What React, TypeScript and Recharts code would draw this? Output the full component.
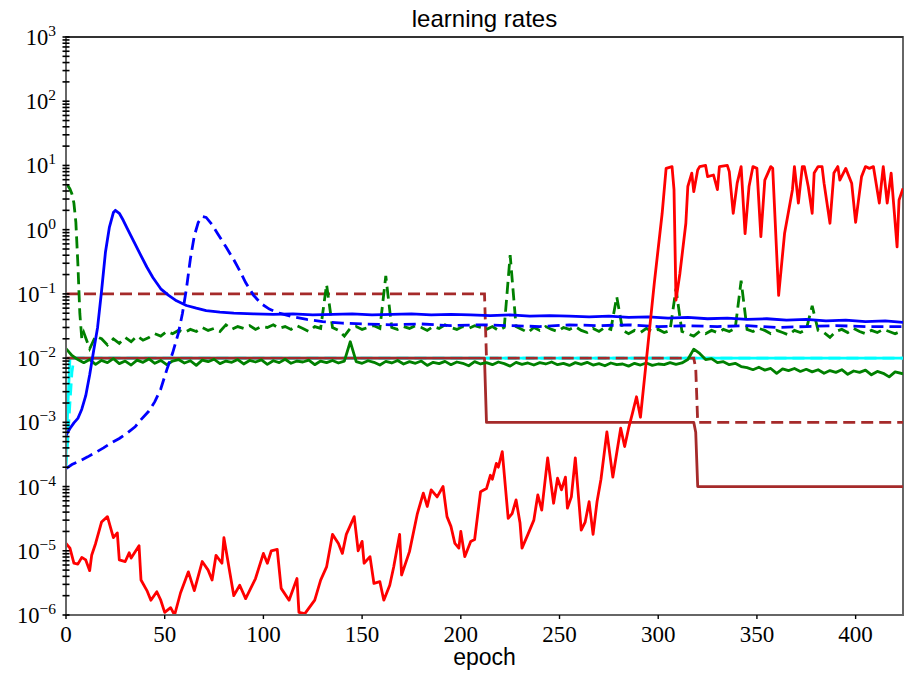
import React from 'react';
import { LineChart, Line, XAxis, YAxis, ReferenceArea, ReferenceLine } from 'recharts';

type P = [number, number];

const xTicks = [0, 50, 100, 150, 200, 250, 300, 350, 400];
const yMajorTicks = [1e-6, 1e-5, 1e-4, 1e-3, 1e-2, 1e-1, 1, 10, 100, 1000];
const minorMultipliers = [2, 3, 4, 5, 6, 7, 8, 9];

const redRate: P[] = [
  [0, 1.3e-5], [2, 1.1e-5], [4, 6.4e-6], [6, 6.2e-6], [8, 7.9e-6], [10, 7.2e-6], [12, 4.9e-6], [13, 8.5e-6],
  [15, 1.3e-5], [18, 2.8e-5], [21, 3.4e-5], [24, 1.6e-5], [26, 1.9e-5], [27, 7.2e-6], [30, 6.8e-6], [32, 9.3e-6],
  [33, 7.7e-6], [37, 1.2e-5], [38, 3.5e-6], [41, 2.4e-6], [43, 1.7e-6], [46, 2.3e-6], [48, 1.7e-6], [50, 1.1e-6],
  [53, 1.3e-6], [55, 1.0e-6], [58, 2.2e-6], [62, 4.7e-6], [65, 2.4e-6], [69, 6.8e-6], [72, 5.0e-6], [74, 3.5e-6],
  [76, 8.5e-6], [79, 6.4e-6], [80, 1.6e-5], [85, 2.0e-6], [88, 2.9e-6], [91, 1.8e-6], [96, 3.7e-6], [100, 9.1e-6],
  [102, 6.4e-6], [104, 1.0e-5], [107, 1.05e-5], [109, 2.6e-6], [113, 1.7e-6], [117, 3.7e-6], [118, 1.1e-6],
  [121, 1.05e-6], [126, 1.7e-6], [129, 3.5e-6], [132, 5.6e-6], [135, 1.8e-5], [138, 1.3e-5], [140, 9.1e-6],
  [142, 1.8e-5], [146, 3.4e-5], [148, 1.0e-5], [150, 1.4e-5], [151, 6.4e-6], [154, 8.1e-6], [156, 3.1e-6],
  [159, 3.3e-6], [161, 1.7e-6], [164, 2.9e-6], [166, 5.6e-6], [169, 1.8e-5], [170, 4.2e-6], [174, 9.7e-6],
  [178, 3.8e-5], [181, 7.9e-5], [183, 4.9e-5], [185, 8.9e-5], [188, 6.9e-5], [191, 1.0e-4], [193, 3.4e-5],
  [195, 2.4e-5], [197, 1.3e-5], [199, 1.1e-5], [200, 2.0e-5], [202, 8.1e-6], [205, 1.4e-5], [207, 1.5e-5],
  [210, 8.3e-5], [213, 9.3e-5], [215, 1.5e-4], [216, 1.3e-4], [218, 2.3e-4], [219, 2.0e-4], [221, 3.5e-4],
  [224, 3.2e-5], [226, 3.8e-5], [228, 6.2e-5], [230, 2.7e-5], [231, 1.1e-5], [234, 1.8e-5], [237, 3.0e-5],
  [239, 7.4e-5], [241, 4.3e-5], [244, 2.8e-4], [247, 5.5e-5], [249, 1.35e-4], [251, 8.9e-5], [253, 1.4e-4],
  [254, 4.6e-5], [256, 6.9e-5], [258, 2.8e-4], [261, 2.1e-5], [263, 2.8e-5], [265, 5.8e-5], [267, 1.8e-5],
  [269, 5.8e-5], [271, 1.3e-4], [274, 7.1e-4], [277, 1.4e-4], [281, 8.1e-4], [283, 4.2e-4], [285, 8.1e-4],
  [287, 1.4e-3], [289, 2.5e-3], [291, 1.2e-3], [294, 9.3e-3], [298, 0.146], [302, 1.8], [304, 9.0], [307, 9.6],
  [308, 4.2], [309, 0.08], [311, 0.21], [314, 1.26], [315, 4.7], [317, 7.6], [318, 3.9], [320, 8.5], [321, 9.6],
  [324, 10], [325, 6.7], [328, 7.1], [330, 4.2], [331, 9.6], [335, 10], [336, 8], [338, 1.8], [340, 5.3],
  [342, 9.6], [344, 0.87], [346, 4.7], [348, 9.6], [350, 9], [352, 0.78], [354, 5.9], [357, 9.6], [358, 9],
  [361, 0.095], [364, 0.87], [368, 4.2], [369, 9.6], [371, 2.6], [373, 9.6], [374, 9.6], [376, 4.7], [378, 1.8],
  [379, 7.6], [381, 9.6], [383, 9.6], [384, 5.3], [387, 1.26], [389, 7.6], [391, 9.6], [392, 5.9], [395, 9.0],
  [398, 5.3], [400, 1.3], [403, 6.7], [405, 9.6], [407, 9], [409, 9.6], [412, 2.6], [414, 9.6], [416, 2.6],
  [418, 7.6], [421, 0.54], [422, 2.9], [424, 4.4],
];

const blueSolid: P[] = [
  [0, 6.3e-4], [2, 8e-4], [4, 9.8e-4], [6, 1.15e-3], [8, 1.6e-3], [10, 2.6e-3], [12, 5.5e-3], [14, 0.013],
  [16, 0.03], [18, 0.11], [20, 0.45], [22, 1.1], [24, 1.85], [25, 2.0], [27, 1.8], [29, 1.4], [31, 1.05],
  [34, 0.69], [37, 0.45], [41, 0.26], [44, 0.18], [48, 0.12], [52, 0.095], [56, 0.078], [61, 0.066], [66, 0.06],
  [71, 0.055], [78, 0.052], [85, 0.05], [95, 0.049], [105, 0.048], [115, 0.049], [125, 0.047], [135, 0.048],
  [145, 0.049], [155, 0.047], [165, 0.048], [175, 0.049], [185, 0.047], [195, 0.048], [205, 0.047], [215, 0.046],
  [225, 0.047], [235, 0.045], [245, 0.046], [255, 0.045], [265, 0.044], [275, 0.045], [285, 0.043], [295, 0.044],
  [305, 0.042], [315, 0.043], [325, 0.041], [335, 0.042], [345, 0.04], [355, 0.041], [365, 0.039], [375, 0.04],
  [385, 0.038], [395, 0.039], [405, 0.037], [415, 0.038], [424, 0.036],
];

const blueDashed: P[] = [
  [0, 1.9e-4], [3, 2.2e-4], [7, 2.5e-4], [11, 2.9e-4], [15, 3.4e-4], [19, 4.0e-4], [23, 4.8e-4], [27, 5.6e-4],
  [31, 6.8e-4], [35, 8.5e-4], [38, 1.1e-3], [42, 1.5e-3], [45, 2.1e-3], [48, 3.3e-3], [51, 6.5e-3], [54, 0.012],
  [57, 0.025], [59, 0.05], [61, 0.12], [63, 0.35], [65, 0.8], [67, 1.3], [69, 1.6], [71, 1.55], [74, 1.2],
  [77, 0.85], [81, 0.54], [85, 0.34], [88, 0.23], [91, 0.15], [95, 0.095], [99, 0.07], [103, 0.058], [108, 0.05],
  [115, 0.044], [122, 0.04], [130, 0.037], [140, 0.035], [150, 0.034], [165, 0.033], [180, 0.034], [195, 0.032],
  [210, 0.033], [225, 0.032], [240, 0.031], [255, 0.033], [270, 0.032], [285, 0.033], [300, 0.031], [315, 0.032],
  [330, 0.031], [345, 0.032], [360, 0.03], [375, 0.031], [390, 0.032], [405, 0.031], [424, 0.031],
];

const greenDashed: P[] = [
  [0, 5.0], [1, 4.8], [2, 4.3], [3, 3.6], [4, 2.6], [5, 1.3], [6, 0.3], [7, 0.05], [8, 0.02],
  [9, 0.025], [12, 0.014], [15, 0.022], [18, 0.02], [21, 0.016], [24, 0.02], [27, 0.017], [30, 0.021],
  [33, 0.018], [36, 0.022], [39, 0.019], [42, 0.021], [45, 0.024], [48, 0.022], [51, 0.026], [54, 0.024],
  [57, 0.027], [60, 0.025], [63, 0.028], [66, 0.026], [69, 0.03], [72, 0.027], [75, 0.029], [78, 0.026],
  [81, 0.033], [84, 0.028], [87, 0.031], [90, 0.029], [93, 0.032], [96, 0.028], [99, 0.031], [102, 0.03],
  [105, 0.033], [108, 0.029], [111, 0.031], [114, 0.028], [117, 0.032], [120, 0.029], [123, 0.026], [126, 0.031],
  [129, 0.029], [132, 0.14], [135, 0.03], [138, 0.027], [141, 0.022], [144, 0.029], [147, 0.031], [150, 0.028],
  [153, 0.03], [156, 0.032], [159, 0.029], [162, 0.19], [165, 0.03], [168, 0.028], [171, 0.031], [174, 0.029],
  [177, 0.032], [180, 0.03], [183, 0.027], [186, 0.031], [189, 0.029], [192, 0.033], [195, 0.03], [198, 0.028],
  [201, 0.031], [204, 0.029], [207, 0.032], [210, 0.03], [213, 0.028], [216, 0.031], [219, 0.027], [222, 0.03],
  [225, 0.4], [228, 0.031], [231, 0.028], [234, 0.025], [237, 0.03], [240, 0.027], [243, 0.031], [246, 0.028],
  [249, 0.026], [252, 0.03], [255, 0.028], [258, 0.031], [261, 0.027], [264, 0.025], [267, 0.029], [270, 0.026],
  [273, 0.03], [276, 0.028], [279, 0.09], [282, 0.027], [285, 0.024], [288, 0.027], [291, 0.025], [294, 0.029],
  [297, 0.026], [300, 0.028], [303, 0.025], [306, 0.027], [309, 0.12], [312, 0.026], [315, 0.024], [318, 0.022],
  [321, 0.026], [324, 0.024], [327, 0.027], [330, 0.025], [333, 0.028], [336, 0.026], [339, 0.029], [342, 0.16],
  [345, 0.028], [348, 0.026], [351, 0.029], [354, 0.027], [357, 0.024], [360, 0.027], [363, 0.025], [366, 0.023],
  [369, 0.027], [372, 0.025], [375, 0.028], [378, 0.065], [381, 0.027], [384, 0.025], [387, 0.021], [390, 0.026],
  [393, 0.028], [396, 0.025], [399, 0.029], [402, 0.026], [405, 0.024], [408, 0.027], [411, 0.025], [414, 0.028],
  [417, 0.026], [420, 0.024], [424, 0.027],
];

const greenSolid: P[] = [
  [0, 0.014], [3, 0.011], [6, 0.0095], [9, 0.0085], [12, 0.0095], [15, 0.008], [18, 0.0092], [21, 0.0085],
  [24, 0.0098], [27, 0.0082], [30, 0.009], [33, 0.0078], [36, 0.0093], [39, 0.0086], [42, 0.0097], [45, 0.0083],
  [48, 0.0092], [51, 0.0079], [54, 0.009], [57, 0.0095], [60, 0.0084], [63, 0.0091], [66, 0.0077], [69, 0.0093],
  [72, 0.0088], [75, 0.0096], [78, 0.0082], [81, 0.009], [84, 0.0086], [87, 0.0095], [90, 0.0081], [93, 0.0092],
  [96, 0.0087], [99, 0.0094], [102, 0.008], [105, 0.0091], [108, 0.0085], [111, 0.0096], [114, 0.0083],
  [117, 0.009], [120, 0.0087], [123, 0.0093], [126, 0.0079], [129, 0.009], [132, 0.0085], [135, 0.0092],
  [138, 0.0084], [141, 0.009], [144, 0.018], [147, 0.0088], [150, 0.0083], [153, 0.0091], [156, 0.0086],
  [159, 0.0078], [162, 0.0089], [165, 0.0084], [168, 0.0092], [171, 0.0081], [174, 0.0088], [177, 0.0083],
  [180, 0.009], [183, 0.0077], [186, 0.0086], [189, 0.0082], [192, 0.0089], [195, 0.0079], [198, 0.0087],
  [201, 0.0083], [204, 0.0076], [207, 0.0088], [210, 0.0081], [213, 0.0085], [216, 0.0079], [219, 0.0087],
  [222, 0.0082], [225, 0.0075], [228, 0.0086], [231, 0.008], [234, 0.0084], [237, 0.0078], [240, 0.0085],
  [243, 0.0081], [246, 0.0087], [249, 0.0079], [252, 0.0083], [255, 0.0077], [258, 0.0085], [261, 0.008],
  [264, 0.0086], [267, 0.0078], [270, 0.0082], [273, 0.0076], [276, 0.0084], [279, 0.0079], [282, 0.0081],
  [285, 0.0075], [288, 0.0083], [291, 0.0078], [294, 0.0084], [297, 0.0077], [300, 0.0081], [303, 0.0079],
  [306, 0.0085], [309, 0.008], [312, 0.0084], [315, 0.0095], [318, 0.0138], [321, 0.0118], [324, 0.0095],
  [327, 0.0098], [330, 0.0085], [333, 0.0088], [336, 0.0079], [339, 0.0083], [342, 0.0074], [345, 0.0071],
  [348, 0.0066], [351, 0.0072], [354, 0.0065], [357, 0.0069], [360, 0.0058], [363, 0.0068], [366, 0.0064],
  [369, 0.0069], [372, 0.0062], [375, 0.0067], [378, 0.0061], [381, 0.0066], [384, 0.0058], [387, 0.0064],
  [390, 0.006], [393, 0.0066], [396, 0.0056], [399, 0.0063], [402, 0.006], [405, 0.0065], [408, 0.0055],
  [411, 0.0062], [414, 0.0058], [417, 0.0051], [420, 0.0061], [424, 0.0057],
];

const brownSolid: P[] = [[0, 0.01], [212, 0.01], [213, 0.001], [318, 0.001], [319, 7e-4], [320, 1e-4], [424, 1e-4]];
const brownDashed: P[] = [[0, 0.1], [212, 0.1], [213, 0.01], [318, 0.01], [319, 7e-3], [320, 1e-3], [424, 1e-3]];
const cyanSolid: P[] = [[0, 3e-4], [1, 2e-3], [2, 0.01], [424, 0.01]];
const cyanDashed: P[] = [[0, 2e-4], [1, 6e-4], [2, 2e-3], [3, 6e-3], [4, 0.01], [424, 0.01]];

const toData = (pts: P[]) => pts.map(([x, y]) => ({ x, y }));

const yTicks: number[] = [];
yMajorTicks.forEach((t, i) => {
  yTicks.push(t);
  if (i < yMajorTicks.length - 1) minorMultipliers.forEach((m) => yTicks.push(m * t));
});

const SERIF = '"Liberation Serif", "DejaVu Serif", serif';
const SANS = '"Liberation Sans", "DejaVu Sans", sans-serif';

const YTick = (props: any) => {
  const { x, y, payload } = props;
  const v = payload.value;
  const e = Math.log10(v);
  const major = Math.abs(e - Math.round(e)) < 1e-6;
  const n = Math.round(e);
  return (
    <g>
      <line x1={x - 3.5} x2={x + 3.5} y1={y} y2={y} stroke="#000" strokeWidth={1.6} />
      {major && (
        <text x={x - 10} y={y + 8} textAnchor="end" fontFamily={SERIF} fontSize={22.5} fill="#000">
          <tspan>10</tspan>
          <tspan dy={-9} fontSize={15.5}>{n < 0 ? '\u2212' + Math.abs(n) : String(n)}</tspan>
        </text>
      )}
    </g>
  );
};

const lw = 2.8;
const dash = '12 6';

export default function App() {
  return (
    <div style={{ position: 'absolute', left: 0, top: 0, width: 913, height: 687, background: '#fff' }}>
      <LineChart width={913} height={687} margin={{ top: 37, right: 10, bottom: 42, left: 6 }}>
        <XAxis
          dataKey="x"
          type="number"
          domain={[0, 424]}
          ticks={xTicks}
          allowDataOverflow
          height={30}
          tickSize={4}
          tickMargin={7}
          interval={0}
          axisLine={{ stroke: '#666', strokeWidth: 2 }}
          tickLine={{ stroke: '#000', strokeWidth: 1.4 }}
          tick={{ fontFamily: SERIF, fontSize: 23, fill: '#000' }}
        />
        <YAxis
          type="number"
          scale="log"
          domain={[1e-6, 1000]}
          ticks={yTicks}
          allowDataOverflow
          width={60}
          tickSize={0}
          tickMargin={0}
          interval={0}
          axisLine={{ stroke: '#666', strokeWidth: 2 }}
          tickLine={false}
          tick={<YTick />}
        />
        <ReferenceArea x1={0} x2={424} y1={1e-6} y2={1000} fill="none" stroke="#666" strokeWidth={2} ifOverflow="visible" />
        <ReferenceLine y={1000} stroke="#222" strokeWidth={1.6} ifOverflow="visible" />
        <Line data={toData(cyanSolid)} dataKey="y" stroke="#00ffff" strokeWidth={lw} strokeLinejoin="round" dot={false} isAnimationActive={false} />
        <Line data={toData(cyanDashed)} dataKey="y" stroke="#00ffff" strokeWidth={lw} strokeDasharray={dash} dot={false} isAnimationActive={false} />
        <Line data={toData(brownSolid)} dataKey="y" stroke="#a52a2a" strokeWidth={lw} strokeLinejoin="round" dot={false} isAnimationActive={false} />
        <Line data={toData(brownDashed)} dataKey="y" stroke="#a52a2a" strokeWidth={lw} strokeDasharray={dash} dot={false} isAnimationActive={false} />
        <Line data={toData(greenSolid)} dataKey="y" stroke="#008000" strokeWidth={lw} strokeLinejoin="round" dot={false} isAnimationActive={false} />
        <Line data={toData(greenDashed)} dataKey="y" stroke="#008000" strokeWidth={lw} strokeDasharray={dash} dot={false} isAnimationActive={false} />
        <Line data={toData(blueSolid)} dataKey="y" stroke="#0000ff" strokeWidth={lw} strokeLinejoin="round" dot={false} isAnimationActive={false} />
        <Line data={toData(blueDashed)} dataKey="y" stroke="#0000ff" strokeWidth={lw} strokeDasharray={dash} dot={false} isAnimationActive={false} />
        <Line data={toData(redRate)} dataKey="y" stroke="#ff0000" strokeWidth={lw} strokeLinejoin="round" dot={false} isAnimationActive={false} />
      </LineChart>
      <div style={{ position: 'absolute', left: 66, width: 837, top: 7, textAlign: 'center', fontFamily: SANS, fontSize: 24, lineHeight: '24px', color: '#000' }}>
        learning rates
      </div>
      <div style={{ position: 'absolute', left: 66, width: 837, top: 646, textAlign: 'center', fontFamily: SANS, fontSize: 23, lineHeight: '23px', color: '#000' }}>
        epoch
      </div>
    </div>
  );
}
